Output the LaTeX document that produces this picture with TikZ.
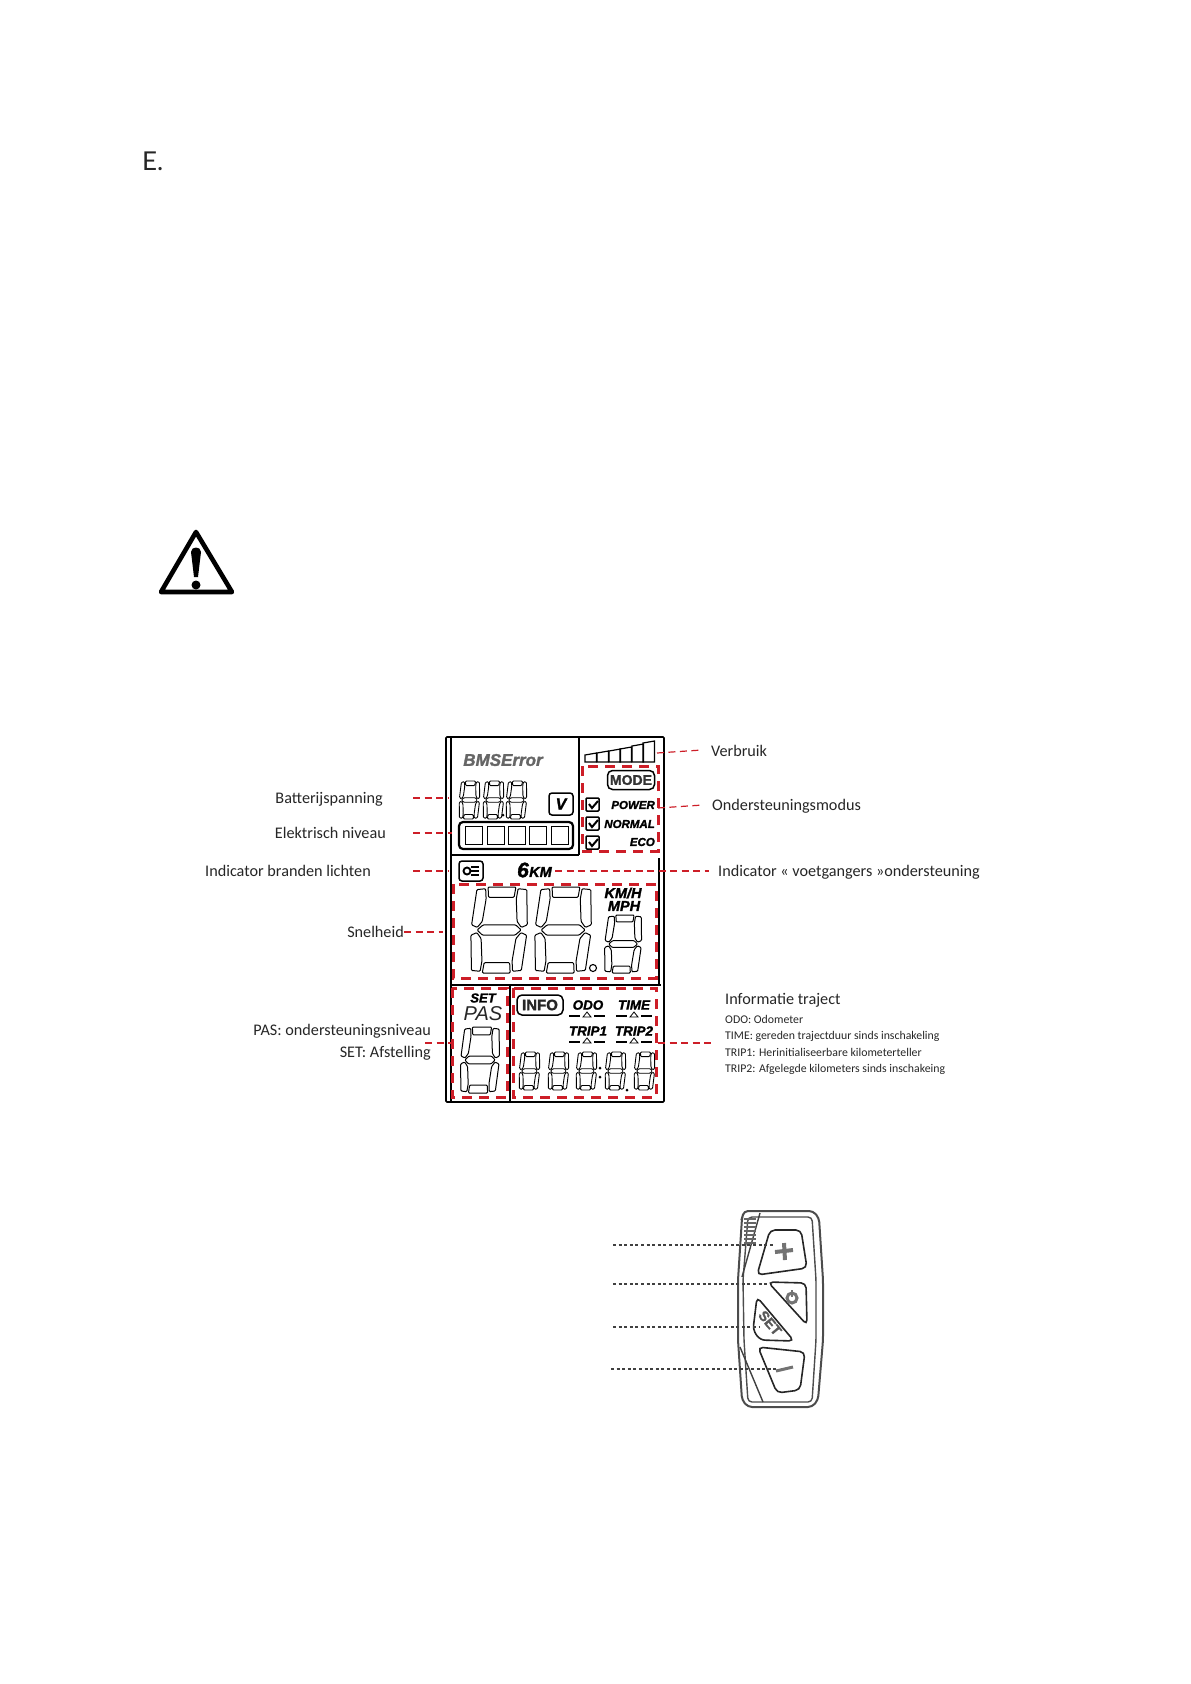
\documentclass[tikz,border=0pt]{standalone}
\usepackage{fontspec}
\setmainfont{Carlito}
\newfontfamily\lcdfont[BoldItalicFeatures={FakeBold=1.6},BoldFeatures={FakeBold=1.6}]{Liberation Sans}
\newfontfamily\headfont{Lato}
\usetikzlibrary{positioning}
\newcommand{\LblSize}{\fontsize{16.2}{18}\selectfont}
\newcommand{\ListSize}{\fontsize{11.8}{13}\selectfont}
\definecolor{leaderred}{RGB}{205,30,40}

\tikzset{
  sevenseg/.pic={
    \draw[rounded corners=1pt] (.26,0) -- (.74,0) -- (.72,.12) -- (.28,.12) -- cycle;
    \draw[rounded corners=1pt] (.07,.03) -- (.22,.02) -- (.24,.14) -- (.2,.4) -- (.12,.47) -- (.02,.44) -- cycle;
    \draw[rounded corners=1pt] (.93,.03) -- (.78,.02) -- (.76,.14) -- (.8,.4) -- (.88,.47) -- (.98,.44) -- cycle;
    \draw[rounded corners=1pt] (.12,.5) -- (.22,.44) -- (.78,.44) -- (.88,.5) -- (.78,.56) -- (.22,.56) -- cycle;
    \draw[rounded corners=1pt] (.02,.56) -- (.12,.53) -- (.2,.6) -- (.24,.86) -- (.22,.98) -- (.07,.97) -- cycle;
    \draw[rounded corners=1pt] (.98,.56) -- (.88,.53) -- (.8,.6) -- (.76,.86) -- (.78,.98) -- (.93,.97) -- cycle;
    \draw[rounded corners=1pt] (.26,1) -- (.74,1) -- (.72,.88) -- (.28,.88) -- cycle;
  },
  checkbox/.pic={
    \draw[line width=1.5pt,rounded corners=1pt] (0,0) rectangle (13,13);
    \draw[line width=2pt] (3,6) -- (6,10) -- (12,3);
  },
  selmark/.pic={
    \draw[line width=1.8pt] (-18,0) -- (-7,0);
    \draw[line width=1.8pt] (7,0) -- (18,0);
    \draw[line width=0.8pt] (-4,1) -- (0,-4) -- (4,1) -- cycle;
  },
}

\begin{document}
\begin{tikzpicture}[
    x=1pt,y=-1pt,
    lbl/.style={font=\LblSize,text=black!85,inner sep=0pt,text height=12.5pt,text depth=1.5pt},
    listitem/.style={font=\ListSize,text=black!85,inner sep=0pt,anchor=west,text height=10pt,text depth=0.5pt},
    leader/.style={draw=leaderred,line width=1.2pt,dash pattern=on 7pt off 4.5pt},
    zonebox/.style={draw=leaderred,line width=3pt,dash pattern=on 10pt off 7pt},
    lcdline/.style={draw=black,line width=1.2pt},
    lcdword/.style={font=\lcdfont\bfseries\itshape\fontsize{11.5}{12}\selectfont,inner sep=0pt},
    tagbox/.style={draw=black,line width=1.5pt,rounded corners=3pt,inner sep=0pt},
    seglarge/.style={line width=1pt,xscale=58,yscale=86,xslant=0.1},
    segsmall/.style={line width=0.9pt,xscale=21,yscale=38,xslant=0.1},
    dotlead/.style={draw=black!75,line width=2pt,dash pattern=on 3pt off 2.6pt},
    unitline/.style={draw=black!70,line width=1.4pt,rounded corners=4pt},
    keyline/.style={draw=black!85,line width=1.6pt,rounded corners=5pt},
  ]
    \useasboundingbox (0,0) rectangle (1191,1684);

    % page heading and warning sign
    \node[font=\headfont\fontsize{26}{28}\selectfont,text=black!85,inner sep=0pt,anchor=west] (heading) at (142,161) {E.};
    \draw[line width=4.6pt,line join=round] (196,532) -- (232,592) -- (161,592) -- cycle;
    \fill (191,552) .. controls (191,546) and (201,546) .. (201,552) -- (198,577) -- (194,577) -- cycle;
    \fill (196,585) circle (4.5);

    % display frame
    \draw[lcdline,line width=1.6pt,rounded corners=1pt] (446,737) -- (664,737) -- (664,1102) -- (446,1102) -- cycle;
    \draw[lcdline] (451,737) -- (451,1102);
    \draw[lcdline] (579,737) -- (579,855);
    \draw[lcdline] (451,855) -- (579,855);
    \draw[lcdline] (659,858) -- (659,985);
    \draw[lcdline] (451,985) -- (661,985);
    \draw[lcdline] (510,985) -- (510,1102);

    % upper left part
    \node[lcdword,font=\lcdfont\bfseries\itshape\fontsize{17}{18}\selectfont,text=black!60] (bmserror) at (503,760) {BMSError};
    \pic[segsmall] at (460,781) {sevenseg};
    \pic[segsmall] at (484,781) {sevenseg};
    \pic[segsmall] at (507,781) {sevenseg};
    \fill (503,815) circle (1.5);
    \node[tagbox,minimum width=24pt,minimum height=22pt,font=\lcdfont\bfseries\itshape\fontsize{16}{17}\selectfont] (voltbox) at (561,804) {V};
    \draw[lcdline,line width=2.2pt,rounded corners=4pt] (459,822) rectangle (573,849);
    \foreach \cellx in {465,487,508,529,551}
      \draw[line width=1pt] (\cellx,826) rectangle +(17,18);

    % consumption bars
    \foreach \barx/\bartop in {585/755,597/753,609/751,620/749,632/746,643/743}
      \draw[line width=1.2pt] (\barx,762) -- (\barx,\bartop) -- (\barx+11.5,\bartop-2) -- (\barx+11.5,762) -- cycle;

    % assistance modes
    \node[tagbox,minimum width=47pt,minimum height=19pt,rounded corners=5pt,lcdword,font=\lcdfont\bfseries\fontsize{14}{15}\selectfont,text=black!80] (modebox) at (631,780) {MODE};
    \node[lcdword,anchor=east] (power) at (655,805) {POWER};
    \node[lcdword,anchor=east] (normal) at (655,824) {NORMAL};
    \node[lcdword,anchor=east] (eco) at (655,842) {ECO};
    \pic at (586,798) {checkbox};
    \pic at (586,817) {checkbox};
    \pic at (586,836) {checkbox};
    \draw[zonebox] (582,766) rectangle (658,851);

    % lights and walk assist
    \node[tagbox,minimum width=24pt,minimum height=20pt] (lightbox) at (471,871) {};
    \draw[line width=1.9pt] (467,871) circle (3.5);
    \foreach \lighty in {867,871,875}
      \draw[line width=1.6pt] (471,\lighty) -- (479,\lighty);
    \node[font=\lcdfont\bfseries\itshape\fontsize{21}{21}\selectfont,inner sep=0pt] (walksix) at (523,870) {6};
    \node[lcdword,font=\lcdfont\bfseries\itshape\fontsize{14.5}{14}\selectfont,anchor=west] (walkkm) at (529,872) {KM};

    % speed
    \pic[seglarge] at (473,887) {sevenseg};
    \pic[seglarge] at (537,887) {sevenseg};
    \pic[line width=1pt,xscale=38,yscale=58,xslant=0.1] at (606,915) {sevenseg};
    \draw[line width=1.1pt] (593,968) circle (3.5);
    \node[lcdword,font=\lcdfont\bfseries\itshape\fontsize{14.5}{14}\selectfont] (kmh) at (623,893) {KM/H};
    \node[lcdword,font=\lcdfont\bfseries\itshape\fontsize{14.5}{14}\selectfont] (mph) at (624,906) {MPH};
    \draw[zonebox] (453,884) rectangle (656,978);

    % assistance level
    \node[lcdword,font=\lcdfont\bfseries\itshape\fontsize{13}{13}\selectfont] (setword) at (483,998) {SET};
    \node[font=\lcdfont\itshape\fontsize{20}{20}\selectfont,inner sep=0pt,text=black!85] (pasword) at (483,1014) {PAS};
    \pic[line width=1pt,xscale=40,yscale=66,xslant=0.1] at (462,1027) {sevenseg};
    \draw[zonebox] (452,988) rectangle (507,1097);

    % trip information
    \node[tagbox,minimum width=46pt,minimum height=20pt,rounded corners=5pt,font=\lcdfont\bfseries\fontsize{15}{15}\selectfont,text=black!85] (infobox) at (540,1005) {INFO};
    \node[lcdword,font=\lcdfont\bfseries\itshape\fontsize{13.4}{14}\selectfont] (odo) at (588,1005) {ODO};
    \node[lcdword,font=\lcdfont\bfseries\itshape\fontsize{13.4}{14}\selectfont] (timeword) at (634,1005) {TIME};
    \node[lcdword,font=\lcdfont\bfseries\itshape\fontsize{13.4}{14}\selectfont] (tripone) at (588,1031) {TRIP1};
    \node[lcdword,font=\lcdfont\bfseries\itshape\fontsize{13.4}{14}\selectfont] (triptwo) at (634,1031) {TRIP2};
    \pic at (587,1016) {selmark};
    \pic at (634,1016) {selmark};
    \pic at (587,1042) {selmark};
    \pic at (634,1042) {selmark};
    \foreach \digx in {520,549,577,606,635}
      \pic[segsmall] at (\digx,1052) {sevenseg};
    \fill (600,1068) circle (1.5);
    \fill (600,1077) circle (1.5);
    \fill (627,1090) circle (1.5);
    \draw[zonebox] (513,988) rectangle (656,1097);

    % left labels
    \node[lbl,anchor=east] (battlabel) at (383,798) {Batterijspanning};
    \node[lbl,anchor=east] (levellabel) at (386,833) {Elektrisch niveau};
    \node[lbl,anchor=east] (lightlabel) at (371,871) {Indicator branden lichten};
    \node[lbl,anchor=east] (speedlabel) at (404,932) {Snelheid};
    \node[lbl,anchor=east] (paslabel) at (431,1030) {PAS: ondersteuningsniveau};
    \node[lbl,anchor=east] (setlabel) at (431,1052) {SET: Afstelling};

    % right labels
    \node[lbl,anchor=west] (uselabel) at (711,751) {Verbruik};
    \node[lbl,anchor=west] (modelabel) at (712,805) {Ondersteuningsmodus};
    \node[lbl,anchor=west] (walklabel) at (718,871) {Indicator « voetgangers »ondersteuning};
    \node[lbl,anchor=west] (triplabel) at (725,999) {Informatie traject};
    \node[listitem] (odolist) at (725,1019) {ODO: Odometer};
    \node[listitem] (timelist) at (725,1035) {TIME: gereden trajectduur sinds inschakeling};
    \node[listitem] (tripolist) at (725,1052) {TRIP1: Herinitialiseerbare kilometerteller};
    \node[listitem] (triptlist) at (725,1068) {TRIP2: Afgelegde kilometers sinds inschakeing};

    % leader ends
    \coordinate (battA) at (413,798);   \coordinate (battB) at (449,798);
    \coordinate (levelA) at (413,833);  \coordinate (levelB) at (452,833);
    \coordinate (lightA) at (413,871);  \coordinate (lightB) at (449,871);
    \coordinate (speedB) at (443,932);
    \coordinate (pasA) at (425,1043);   \coordinate (pasB) at (451,1043);
    \coordinate (useA) at (657,753);    \coordinate (useB) at (702,750);
    \coordinate (modeA) at (658,808);   \coordinate (modeB) at (703,805);
    \coordinate (walkA) at (555,871);   \coordinate (walkB) at (709,871);
    \coordinate (tripA) at (658,1043);  \coordinate (tripB) at (713,1043);
    \draw[leader] (battA) -- (battB);
    \draw[leader] (levelA) -- (levelB);
    \draw[leader] (lightA) -- (lightB);
    \draw[leader] (speedlabel.east) -- (speedB);
    \draw[leader] (pasA) -- (pasB);
    \draw[leader] (useA) -- (useB);
    \draw[leader] (modeA) -- (modeB);
    \draw[leader] (walkA) -- (walkB);
    \draw[leader] (tripA) -- (tripB);

    % control unit
    \draw[unitline,line width=2pt] (744,1211) -- (813,1211) -- (819,1218) -- (823,1280) -- (823,1340) -- (818,1400) -- (812,1407) -- (748,1407) -- (742,1400) -- (738,1340) -- (738,1280) -- (742,1218) -- cycle;
    \draw[unitline] (748,1217) -- (812,1217) -- (816,1280) -- (816,1340) -- (812,1402) -- (748,1402) -- (744,1340) -- (743,1280) -- cycle;
    \draw[draw=black!75,line width=1.4pt] (760,1213) -- (742,1277);
    \draw[draw=black!75,line width=1.4pt] (740,1347) -- (763,1402);
    \foreach \grilly in {1219,1223,1227,1231,1235,1239,1243}
      \draw[draw=black!60,line width=1.8pt] (744,\grilly) -- (756,\grilly);
    \draw[keyline] (770,1230) -- (801,1230) -- (807,1268) -- (757,1275) -- cycle;
    \draw[keyline] (768,1282) -- (806,1283) -- (807,1325) -- cycle;
    \draw[keyline] (757,1297) -- (794,1341) -- (760,1340) -- (753,1330) -- cycle;
    \draw[keyline] (758,1347) -- (805,1352) -- (800,1390) -- (777,1393) -- cycle;
    \draw[draw=black!55,line width=4pt] (775,1252) -- (793,1250);
    \draw[draw=black!55,line width=4pt] (784,1243) -- (785,1260);
    \draw[draw=black!55,line width=3pt] (792,1298) circle (5);
    \draw[draw=black!55,line width=2pt] (792,1290) -- (792,1297);
    \node[font=\lcdfont\bfseries\fontsize{14}{14}\selectfont,text=black!65,rotate=-50,inner sep=0pt] (setkey) at (770,1323) {SET};
    \draw[draw=black!55,line width=3pt] (776,1371) -- (793,1367);

    % dotted leaders
    \coordinate (plusA) at (613,1245);  \coordinate (plusB) at (775,1245);
    \coordinate (powA) at (613,1284);   \coordinate (powB) at (767,1284);
    \coordinate (setA) at (613,1327);   \coordinate (setB) at (760,1327);
    \coordinate (minA) at (611,1369);   \coordinate (minB) at (777,1369);
    \draw[dotlead] (plusA) -- (plusB);
    \draw[dotlead] (powA) -- (powB);
    \draw[dotlead] (setA) -- (setB);
    \draw[dotlead] (minA) -- (minB);
  \end{tikzpicture}
\end{document}
